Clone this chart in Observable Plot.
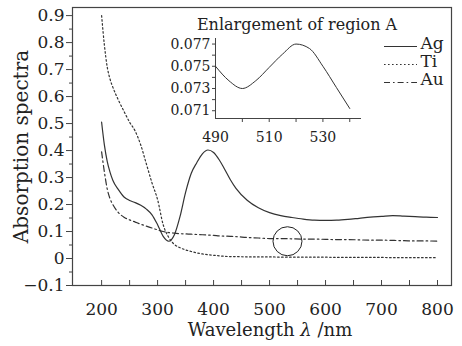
<!DOCTYPE html>
<html>
<head>
<meta charset="utf-8">
<script src="https://cdn.jsdelivr.net/npm/d3@7"></script>
<script src="https://cdn.jsdelivr.net/npm/@observablehq/plot@0.6"></script>
<style>
  html, body { margin: 0; padding: 0; background: #ffffff; }
  #wrap { position: relative; width: 462px; height: 346px; overflow: hidden; }
  #wrap svg { position: absolute; background: transparent; overflow: visible; }
  #wrap svg, #wrap svg text, #wrap svg g { font-family: "DejaVu Serif", "Liberation Serif", serif !important; }
</style>
</head>
<body>
<div id="wrap"></div>
<script>
// ---- Data ----
const wavelength = [200,205,210,215,220,230,240,250,260,270,280,290,300,310,320,330,340,350,360,370,380,390,400,410,420,430,440,460,480,500,520,540,560,580,600,620,640,660,680,700,720,740,760,780,800];
const ag = [0.505,0.42,0.36,0.32,0.29,0.255,0.228,0.215,0.207,0.197,0.183,0.162,0.125,0.082,0.064,0.088,0.155,0.245,0.315,0.355,0.388,0.402,0.393,0.366,0.33,0.292,0.26,0.216,0.188,0.17,0.159,0.152,0.146,0.142,0.141,0.142,0.145,0.149,0.153,0.156,0.159,0.157,0.155,0.153,0.152];
const ti = [0.9,0.79,0.71,0.665,0.635,0.587,0.545,0.505,0.472,0.42,0.35,0.28,0.218,0.125,0.078,0.052,0.04,0.032,0.026,0.021,0.017,0.014,0.012,0.01,0.008,0.007,0.007,0.006,0.006,0.006,0.005,0.005,0.005,0.005,0.005,0.004,0.004,0.004,0.004,0.004,0.003,0.003,0.003,0.003,0.003];
const au = [0.395,0.32,0.258,0.222,0.2,0.17,0.153,0.143,0.135,0.127,0.12,0.113,0.106,0.1,0.096,0.094,0.092,0.091,0.09,0.089,0.088,0.087,0.086,0.084,0.083,0.082,0.081,0.078,0.076,0.074,0.074,0.073,0.072,0.072,0.071,0.07,0.07,0.069,0.068,0.068,0.067,0.066,0.065,0.065,0.064];
const seriesNames = ["Ag", "Ti", "Au"];
const regionA = [{wavelength: 532, value: 0.064}];

const insetWavelength = [490,495,500,505,510,515,520,525,530,535,540];
const insetAg = [0.0750,0.0737,0.0730,0.0737,0.0749,0.0761,0.0770,0.0766,0.0750,0.0731,0.0712];

const xTicks = [200,300,400,500,600,700,800];
const xMinorTicks = [200,250,300,350,400,450,500,550,600,650,700,750,800];
const yTicks = [-0.1,0,0.1,0.2,0.3,0.4,0.5,0.6,0.7,0.8,0.9];
const yMinorTicks = [-0.05,0.05,0.15,0.25,0.35,0.45,0.55,0.65,0.75,0.85];
const insetXTicks = [490,510,530];
const insetXMinor = [500,510,520,530,540];
const insetYTicks = [0.071,0.073,0.075,0.077];
const insetYMinor = [0.072,0.074,0.076];

// ---- Styles ----
const FONT = "DejaVu Serif, Liberation Serif, serif";
const INK = "#222";
const LINE = "#333";
const dash = {Ag: null, Ti: "1.6,2.4", Au: "6,3,1.6,3"};

const values = {Ag: ag, Ti: ti, Au: au};
const rows = s => wavelength.map((w, i) => ({wavelength: w, value: values[s][i]}));
const fmtY = d => (d < 0 ? "\u2212" : "") + String(+Math.abs(d).toFixed(2));

const wrap = document.getElementById("wrap");

// ---- Main plot ----
const main = Plot.plot({
  width: 462, height: 346,
  marginLeft: 72, marginRight: 11, marginTop: 7, marginBottom: 61,
  style: {fontFamily: FONT, color: INK, background: "transparent", overflow: "visible"},
  x: {domain: [148, 825], label: null},
  y: {domain: [-0.1, 0.93], label: null},
  marks: [
    Plot.frame({stroke: "#444", strokeWidth: 1.2}),
    Plot.axisY(yTicks, {tickSize: 6, tickPadding: 2, fontSize: 17, fontFamily: FONT, tickFormat: fmtY, label: null, stroke: "#444"}),
    Plot.axisY(yMinorTicks, {tickSize: 3, tickFormat: () => "", label: null, stroke: "#444"}),
    Plot.axisX(xTicks, {tickSize: 0, tickPadding: 17, fontSize: 17, fontFamily: FONT, label: null}),
    Plot.axisX(xMinorTicks, {tickSize: 5, dy: -5, tickFormat: () => "", label: null, stroke: "#444"}),
    ...seriesNames.map(s => Plot.line(rows(s), {
      x: "wavelength", y: "value", curve: "monotone-x",
      stroke: LINE, strokeWidth: 1.2, strokeDasharray: dash[s]
    })),
    Plot.dot(regionA, {x: "wavelength", y: "value", r: 14.5, stroke: INK, strokeWidth: 1, fill: "none"}),
    Plot.text(["Absorption spectra"], {text: d => d, frameAnchor: "left", textAnchor: "middle", dx: -51, rotate: -90, fontSize: 20, fontFamily: FONT, fill: INK}),
    Plot.text(["Wavelength \u03bb /nm"], {text: d => d, frameAnchor: "bottom", textAnchor: "middle", dy: 45, dx: 8, fontSize: 18, fontFamily: FONT, fill: INK, lineAnchor: "middle"})
  ]
});
main.style.left = "0px"; main.style.top = "0px";
wrap.appendChild(main);

// italic lambda
d3.select(main).selectAll("text").each(function() {
  const t = this.textContent;
  if (t.includes("\u03bb")) {
    const parts = t.split("\u03bb");
    const sel = d3.select(this);
    sel.text(null);
    sel.append("tspan").text(parts[0]);
    sel.append("tspan").attr("font-style", "italic").text("\u03bb");
    sel.append("tspan").text(parts[1]);
  }
});

// ---- Inset ----
const inset = Plot.plot({
  width: 230, height: 150,
  marginLeft: 65, marginRight: 20, marginTop: 38, marginBottom: 32,
  style: {fontFamily: FONT, color: INK, background: "transparent", overflow: "visible"},
  x: {domain: [490, 544], label: null},
  y: {domain: [0.0703, 0.0775], label: null},
  marks: [
    Plot.frame({anchor: "left", stroke: "#444"}),
    Plot.frame({anchor: "bottom", stroke: "#444"}),
    Plot.axisY(insetYTicks, {tickSize: 3, tickPadding: 2, fontSize: 14, fontFamily: FONT, tickFormat: d3.format(".3f"), label: null, stroke: "#444"}),
    Plot.axisY(insetYMinor, {tickSize: 3, tickFormat: () => "", label: null, stroke: "#444"}),
    Plot.axisX(insetXTicks, {tickSize: 0, tickPadding: 14, fontSize: 14, fontFamily: FONT, label: null}),
    Plot.axisX(insetXMinor, {tickSize: 4, tickFormat: () => "", label: null, stroke: "#444"}),
    Plot.line(insetWavelength.map((w, i) => ({wavelength: w, value: insetAg[i]})), {
      x: "wavelength", y: "value", curve: "monotone-x", stroke: LINE, strokeWidth: 1
    }),
    Plot.text(["Enlargement of region A"], {text: d => d, frameAnchor: "top", textAnchor: "middle", dy: -14, dx: 9, fontSize: 16, fontFamily: FONT, fill: INK, lineAnchor: "middle"})
  ]
});
inset.style.left = "150px"; inset.style.top = "0px";
wrap.appendChild(inset);

// ---- Legend ----
const legend = Plot.plot({
  width: 82, height: 58,
  marginLeft: 4, marginRight: 45, marginTop: 11, marginBottom: 11,
  style: {fontFamily: FONT, color: INK, background: "transparent", overflow: "visible"},
  x: {domain: [0, 1], axis: null},
  y: {type: "point", domain: seriesNames, padding: 0, axis: null},
  marks: [
    ...seriesNames.map(s => Plot.ruleY([s], {y: d => d, x1: 0, x2: 1, stroke: LINE, strokeWidth: 1.2, strokeDasharray: dash[s]})),
    Plot.text(seriesNames, {y: d => d, x: 1, text: d => d, dx: 3, dy: -3, textAnchor: "start", lineAnchor: "middle", fontSize: 17, fontFamily: FONT, fill: INK})
  ]
});
legend.style.left = "380px"; legend.style.top = "35px";
wrap.appendChild(legend);
</script>
</body>
</html>
